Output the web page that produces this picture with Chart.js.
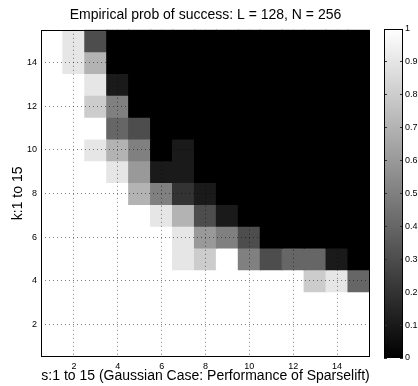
<!DOCTYPE html>
<html>
<head>
<meta charset="utf-8">
<script src="https://cdn.jsdelivr.net/npm/chart.js@4.4.0/dist/chart.umd.min.js"></script>
<style>
  html, body { margin: 0; padding: 0; background: #fff; }
  #wrap { position: relative; width: 418px; height: 386px; }
  #main { position: absolute; left: 0; top: 0; }
  #cbar { position: absolute; left: 378px; top: 0; }
</style>
</head>
<body>
<div id="wrap">
  <canvas id="main" width="418" height="386"></canvas>
  <canvas id="cbar" width="40" height="386"></canvas>
</div>
<script>
// s = column (x), k = row (y)
const sValues = [1, 2, 3, 4, 5, 6, 7, 8, 9, 10, 11, 12, 13, 14, 15];
const kValues = [15, 14, 13, 12, 11, 10, 9, 8, 7, 6, 5, 4, 3, 2, 1];

// empirical success probability, one row per k (top row k = 15)
const k15 = [1, 0.9, 0.3, 0, 0, 0, 0, 0, 0, 0, 0, 0, 0, 0, 0];
const k14 = [1, 0.9, 0.7, 0, 0, 0, 0, 0, 0, 0, 0, 0, 0, 0, 0];
const k13 = [1, 1, 0.9, 0.1, 0, 0, 0, 0, 0, 0, 0, 0, 0, 0, 0];
const k12 = [1, 1, 0.8, 0.5, 0, 0, 0, 0, 0, 0, 0, 0, 0, 0, 0];
const k11 = [1, 1, 1, 0.4, 0.3, 0, 0, 0, 0, 0, 0, 0, 0, 0, 0];
const k10 = [1, 1, 0.9, 0.7, 0.5, 0, 0.1, 0, 0, 0, 0, 0, 0, 0, 0];
const k9 = [1, 1, 1, 0.9, 0.6, 0.1, 0.1, 0, 0, 0, 0, 0, 0, 0, 0];
const k8 = [1, 1, 1, 1, 0.7, 0.5, 0.2, 0.1, 0, 0, 0, 0, 0, 0, 0];
const k7 = [1, 1, 1, 1, 1, 0.9, 0.7, 0.3, 0.1, 0, 0, 0, 0, 0, 0];
const k6 = [1, 1, 1, 1, 1, 1, 0.9, 0.6, 0.5, 0.3, 0, 0, 0, 0, 0];
const k5 = [1, 1, 1, 1, 1, 1, 0.9, 0.8, 1, 0.5, 0.3, 0.4, 0.4, 0.1, 0];
const k4 = [1, 1, 1, 1, 1, 1, 1, 1, 1, 1, 1, 1, 0.8, 0.9, 0.4];
const k3 = [1, 1, 1, 1, 1, 1, 1, 1, 1, 1, 1, 1, 1, 1, 1];
const k2 = [1, 1, 1, 1, 1, 1, 1, 1, 1, 1, 1, 1, 1, 1, 1];
const k1 = [1, 1, 1, 1, 1, 1, 1, 1, 1, 1, 1, 1, 1, 1, 1];
const probRows = [k15, k14, k13, k12, k11, k10, k9, k8, k7, k6, k5, k4, k3, k2, k1];

const xTicks = [2, 4, 6, 8, 10, 12, 14];
const yTicks = [2, 4, 6, 8, 10, 12, 14];
const cbarTicks = [0, 0.1, 0.2, 0.3, 0.4, 0.5, 0.6, 0.7, 0.8, 0.9, 1];

const titleText = 'Empirical prob of success: L = 128, N = 256';
const xTitle = 's:1 to 15 (Gaussian Case: Performance of Sparselift)';
const yTitle = 'k:1 to 15';

const fontFam = '"Liberation Sans", Arial, Helvetica, sans-serif';

function gray(v) {
  const g = Math.round(v * 255);
  return `rgb(${g},${g},${g})`;
}

// black box around the chart area
const framePlugin = {
  id: 'frame',
  afterDraw(chart) {
    const { ctx, chartArea: a } = chart;
    const l = Math.round(a.left) + 0.5, t = Math.round(a.top) + 0.5;
    const r = Math.round(a.right) - 0.5, b = Math.round(a.bottom) - 0.5;
    ctx.save();
    ctx.strokeStyle = '#000';
    ctx.lineWidth = 1;
    ctx.strokeRect(l, t, r - l, b - t);
    ctx.restore();
  }
};

const datasets = kValues.map((k, row) => ({
  label: 'k=' + k,
  data: sValues.map(s => ({ x: s, y: [k - 0.5, k + 0.5] })),
  backgroundColor: probRows[row].map(gray),
  borderWidth: 0,
  inflateAmount: 0.6,
  barPercentage: 1,
  categoryPercentage: 1,
  grouped: false
}));

new Chart(document.getElementById('main'), {
  type: 'bar',
  data: { datasets: datasets },
  options: {
    responsive: false,
    animation: false,
    layout: { padding: { top: 0, right: 48, bottom: 0, left: 0 } },
    plugins: {
      legend: { display: false },
      tooltip: { enabled: false },
      title: {
        display: true,
        fullSize: false,
        text: titleText,
        color: '#000',
        font: { family: fontFam, size: 14, weight: 'normal' },
        padding: { top: 7, bottom: 6 }
      }
    },
    scales: {
      x: {
        type: 'linear',
        offset: false,
        min: 0.5,
        max: 15.5,
        afterBuildTicks: s => { s.ticks = xTicks.map(v => ({ value: v })); },
        afterFit: s => { s.height = 29; },
        grid: { offset: false, color: 'rgba(0,0,0,0.5)', lineWidth: 1, drawTicks: false, z: 1 },
        border: { display: false, dash: [1, 3] },
        ticks: { color: '#000', font: { family: fontFam, size: 9 }, padding: 4, maxRotation: 0, autoSkip: false },
        title: {
          display: true,
          text: xTitle,
          color: '#000',
          font: { family: fontFam, size: 14 },
          padding: { top: 0, bottom: 1 }
        }
      },
      y: {
        type: 'linear',
        min: 0.5,
        max: 15.5,
        afterBuildTicks: s => { s.ticks = yTicks.map(v => ({ value: v })); },
        afterFit: s => { s.width = 41; },
        grid: { color: 'rgba(0,0,0,0.5)', lineWidth: 1, drawTicks: false, z: 1 },
        border: { display: false, dash: [1, 3] },
        ticks: { color: '#000', font: { family: fontFam, size: 9 }, padding: 4, autoSkip: false },
        title: {
          display: true,
          text: yTitle,
          color: '#000',
          font: { family: fontFam, size: 14 },
          padding: { top: 10, bottom: 0 }
        }
      }
    }
  },
  plugins: [framePlugin]
});

// colour bar
new Chart(document.getElementById('cbar'), {
  type: 'bar',
  data: {
    labels: ['prob'],
    datasets: [{
      data: [[0, 1]],
      borderWidth: 0,
      barPercentage: 1,
      categoryPercentage: 1,
      backgroundColor: (ctx) => {
        const chart = ctx.chart;
        const ys = chart.scales.y;
        if (!chart.chartArea || !ys) return '#808080';
        const g = chart.ctx.createLinearGradient(0, ys.getPixelForValue(0), 0, ys.getPixelForValue(1));
        g.addColorStop(0, '#000');
        g.addColorStop(1, '#fff');
        return g;
      }
    }]
  },
  options: {
    responsive: false,
    animation: false,
    layout: { padding: { top: 29, right: 0, bottom: 28, left: 6 } },
    plugins: { legend: { display: false }, tooltip: { enabled: false } },
    scales: {
      x: { display: false },
      y: {
        position: 'right',
        min: 0,
        max: 1,
        afterBuildTicks: s => { s.ticks = cbarTicks.map(v => ({ value: v })); },
        afterFit: s => { s.width = 15; },
        grid: { color: '#333', lineWidth: 1, drawTicks: false, z: 1 },
        border: { display: false, dash: [3, 13] },
        ticks: { color: '#000', font: { family: fontFam, size: 9 }, padding: 2, callback: v => String(v) }
      }
    }
  },
  plugins: [framePlugin]
});
</script>
</body>
</html>
